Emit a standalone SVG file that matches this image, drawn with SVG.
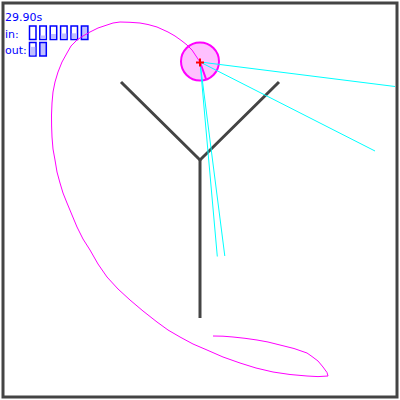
<svg xmlns="http://www.w3.org/2000/svg" width="400" height="400" viewBox="0 0 400 400">
<style>
.t{font-family:"DejaVu Sans",sans-serif;font-size:11px;fill:#0000ff}
.box{fill:#fff;stroke:#0000ff;stroke-width:1.5}
.lvl{fill:#c0c0ff}
.arm{stroke:#444;stroke-width:3;fill:none}
.ray{stroke:#00ffff;stroke-width:1;fill:none}
</style>
<rect x="0" y="0" width="400" height="400" fill="#fff"/>
<rect x="3" y="3" width="394" height="394" fill="none" stroke="#444" stroke-width="3"/>
<g id="hud">
<text class="t" x="5" y="21">29.90s</text>
<text class="t" x="5" y="37.5">in:</text>
<text class="t" x="5" y="54">out:</text>
<g id="in-boxes">
<rect class="box" x="29.5" y="26" width="6.5" height="13.5"/>
<rect class="box" x="39.8" y="26" width="6.5" height="13.5"/>
<rect class="lvl" x="40.5" y="35.5" width="5.1" height="3.3"/>
<rect class="box" x="50.2" y="26" width="6.5" height="13.5"/>
<rect class="lvl" x="50.9" y="34" width="5.1" height="4.8"/>
<rect class="box" x="60.6" y="26" width="6.5" height="13.5"/>
<rect class="lvl" x="61.3" y="33.5" width="5.1" height="5.3"/>
<rect class="box" x="71" y="26" width="6.5" height="13.5"/>
<rect class="lvl" x="71.7" y="33.3" width="5.1" height="5.5"/>
<rect class="box" x="81.4" y="26" width="6.5" height="13.5" style="fill:#c0c0ff"/>
</g>
<g id="out-boxes">
<rect class="box" x="29.5" y="42.5" width="6.5" height="13.5"/>
<rect class="lvl" x="30.2" y="46.8" width="5.1" height="8.5"/>
<rect class="box" x="39.8" y="42.5" width="6.5" height="13.5" style="fill:#c0c0ff"/>
</g>
</g>
<g id="figure">
<polyline class="arm" points="121,82 200,160 279,82"/>
<line class="arm" x1="200" y1="160" x2="200" y2="318"/>
</g>
<g id="agent-body">
<circle cx="200" cy="61.5" r="19" fill="#ffc0ff" stroke="#ff00ff" stroke-width="2"/>
<line x1="200" y1="62" x2="206" y2="79" stroke="#ff00ff" stroke-width="2"/>
</g>
<g id="trajectory">
<polyline fill="none" stroke="#ff00ff" stroke-width="1" stroke-linejoin="round" points="200,62 196,56 192,50 187,45 182,41 175,36 168,32 157,27 148,24.5 140,23 130,22.3 120,22 113,23 107,25 98,28 90,32 83,36 77,40 71,46 67,53 62,62 58,72 55,82 53,92 52,103 51.5,115 51.6,126 52,137 53,149 55,160 57,172 60,183 63,193 67,203 72,215 77,227 83,239 90,250 98,264 107,277 118,289 130,300 143,311 157,322 168,330 180,337 193,344 207,350 223,357 240,363 256,368 273,372 290,374.5 307,376 318,376.6 328,376 327,372.5 323,367 318,361 312,356.5 307,353 294,348.5 280,345 268,342 257,340 245,338.3 233,337 223,336.2 213,336"/>
</g>
<g id="rays">
<line class="ray" x1="200" y1="62" x2="395" y2="86.5"/>
<line class="ray" x1="200" y1="62" x2="375" y2="151"/>
<line class="ray" x1="200" y1="62" x2="217.3" y2="256.5"/>
<line class="ray" x1="200" y1="62" x2="224.8" y2="256"/>
</g>
<g id="agent-mark">
<path d="M196,62.5H204M200,58.5V66.5" stroke="#ff0000" stroke-width="2"/>
</g>
</svg>
